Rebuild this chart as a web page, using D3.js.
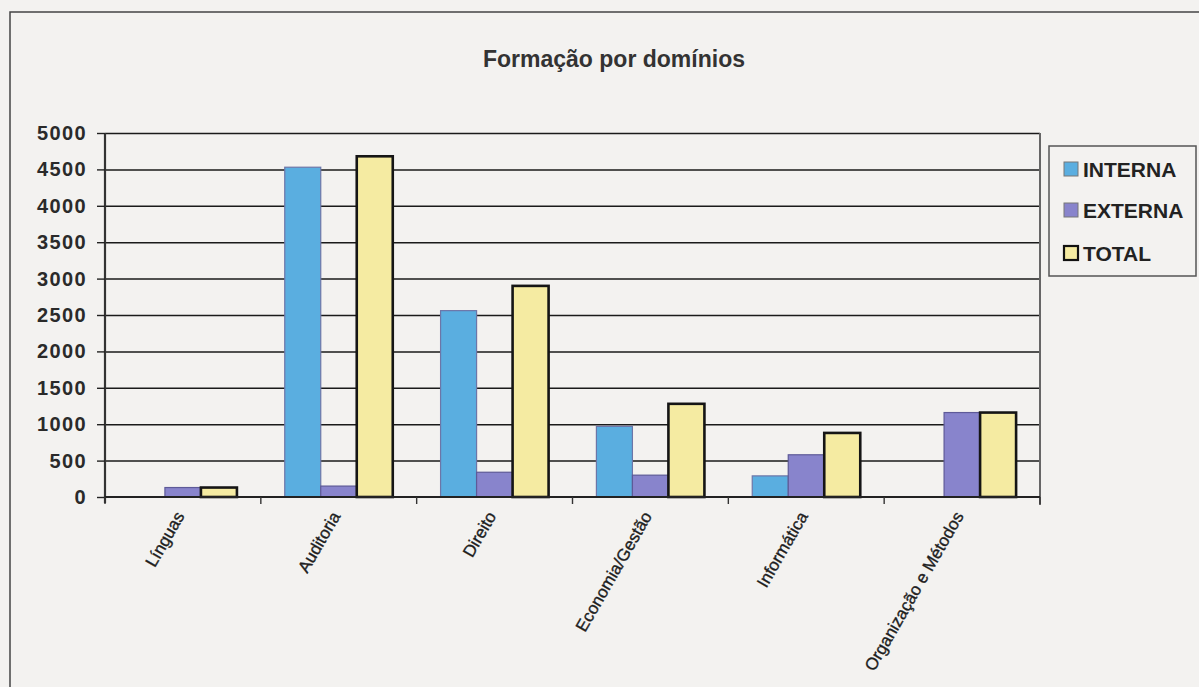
<!DOCTYPE html>
<html>
<head>
<meta charset="utf-8">
<script src="https://cdn.jsdelivr.net/npm/d3@7"></script>
<style>
  html, body { margin: 0; padding: 0; background: #f3f2f0; }
  svg { display: block; }
  text { font-family: "Liberation Sans", Arial, Helvetica, sans-serif; }
</style>
</head>
<body>
<svg id="chart" width="1199" height="687"></svg>
<script>
const title = "Formação por domínios";
const categories = ["Línguas", "Auditoria", "Direito", "Economia/Gestão", "Informática", "Organização e Métodos"];
const seriesNames = ["INTERNA", "EXTERNA", "TOTAL"];
const interna = [0, 4530, 2560, 970, 290, 0];
const externa = [130, 150, 340, 300, 580, 1160];
const total   = [130, 4680, 2900, 1280, 880, 1160];
const yTicks = [0, 500, 1000, 1500, 2000, 2500, 3000, 3500, 4000, 4500, 5000];

const colors = { INTERNA: "#5aaee0", EXTERNA: "#8884cc", TOTAL: "#f5eba2" };
const strokes = { INTERNA: "#6c76a8", EXTERNA: "#5e5a98", TOTAL: "#151515" };
const strokeW = { INTERNA: 1.2, EXTERNA: 1.2, TOTAL: 2.6 };

const seriesValues = { INTERNA: interna, EXTERNA: externa, TOTAL: total };
const data = categories.map((c, i) => ({
  cat: c,
  vals: seriesNames.map(s => ({ key: s, value: seriesValues[s][i] }))
}));

const svg = d3.select("#chart");
const W = 1199, H = 687;
const plot = { left: 105, right: 1040, top: 133, bottom: 497 };

// outer chart border
svg.append("rect").attr("x", 0).attr("y", 0).attr("width", W).attr("height", H).attr("fill", "#f3f2f0");
svg.append("path")
  .attr("d", `M10,${H} L10,12 L${W},12`)
  .attr("fill", "none").attr("stroke", "#444").attr("stroke-width", 1.5);

// title
svg.append("text")
  .attr("x", 614).attr("y", 67)
  .attr("text-anchor", "middle")
  .attr("font-size", 23).attr("font-weight", "bold")
  .attr("fill", "#333")
  .text(title);

const x0 = d3.scaleBand().domain(categories).range([plot.left, plot.right]).paddingInner(0).paddingOuter(0);
const x1 = d3.scaleBand().domain(seriesNames).range([0, x0.bandwidth()]).paddingInner(0).paddingOuter(0.664);
const y = d3.scaleLinear().domain([0, 5000]).range([plot.bottom, plot.top]);

// gridlines
svg.append("g")
  .attr("transform", `translate(${plot.left},0)`)
  .call(d3.axisLeft(y).tickValues(yTicks.filter(t => t > 0)).tickSize(-(plot.right - plot.left)).tickFormat(""))
  .call(g => g.select(".domain").remove())
  .call(g => g.selectAll("line").attr("stroke", "#1a1a1a").attr("stroke-width", 1.5));

// right border of plot
svg.append("line")
  .attr("x1", plot.right).attr("x2", plot.right)
  .attr("y1", plot.top).attr("y2", plot.bottom + 8)
  .attr("stroke", "#666").attr("stroke-width", 2);

// bars
const groups = svg.append("g").selectAll("g")
  .data(data).join("g")
  .attr("transform", d => `translate(${x0(d.cat)},0)`);

groups.selectAll("rect")
  .data(d => d.vals.filter(v => v.value > 0))
  .join("rect")
  .attr("x", d => x1(d.key))
  .attr("y", d => y(d.value))
  .attr("width", x1.bandwidth())
  .attr("height", d => y(0) - y(d.value))
  .attr("fill", d => colors[d.key])
  .attr("stroke", d => strokes[d.key])
  .attr("stroke-width", d => strokeW[d.key]);

// y axis
svg.append("g")
  .attr("transform", `translate(${plot.left},0)`)
  .call(d3.axisLeft(y).tickValues(yTicks).tickSize(8).tickPadding(10).tickFormat(d3.format("d")))
  .call(g => g.select(".domain").attr("stroke", "#333").attr("stroke-width", 2.2)
    .attr("d", `M0,${plot.top}V${plot.bottom + 6}`))
  .call(g => g.selectAll(".tick line").attr("stroke", "#222").attr("stroke-width", 1.4))
  .call(g => g.selectAll(".tick text")
    .attr("font-size", 20).attr("font-weight", "bold")
    .attr("letter-spacing", 1.4)
    .attr("fill", "#2a2a2a")
    .attr("font-family", "'Liberation Sans', Arial, sans-serif"));

// x axis line
svg.append("line")
  .attr("x1", plot.left).attr("x2", plot.right)
  .attr("y1", plot.bottom).attr("y2", plot.bottom)
  .attr("stroke", "#222").attr("stroke-width", 1.8);

// x tick marks at category boundaries
const boundaries = categories.map(c => x0(c)).concat([x0.range()[1]]);
svg.append("g").selectAll("line")
  .data(boundaries).join("line")
  .attr("x1", d => d).attr("x2", d => d)
  .attr("y1", plot.bottom).attr("y2", plot.bottom + 7)
  .attr("stroke", "#333").attr("stroke-width", 1.4);

// x labels
svg.append("g").selectAll("text")
  .data(categories).join("text")
  .attr("transform", d => `translate(${x0(d) + x0.bandwidth() / 2 - 3},${plot.bottom + 16}) rotate(-60)`)
  .attr("text-anchor", "end")
  .attr("dy", "0.35em")
  .attr("font-size", 17)
  .attr("fill", "#1e1e1e")
  .attr("stroke", "#1e1e1e").attr("stroke-width", 0.35)
  .text(d => d);

// legend
const lg = svg.append("g");
lg.append("rect")
  .attr("x", 1049).attr("y", 146).attr("width", 147).attr("height", 130)
  .attr("fill", "#f3f2f0").attr("stroke", "#555").attr("stroke-width", 1.5);
const legendY = [169, 210, 253];
seriesNames.forEach((s, i) => {
  lg.append("rect")
    .attr("x", 1064).attr("y", legendY[i] - 7).attr("width", 14).attr("height", 14)
    .attr("fill", colors[s]).attr("stroke", s === "TOTAL" ? "#111" : "#777")
    .attr("stroke-width", s === "TOTAL" ? 2.2 : 1);
  lg.append("text")
    .attr("x", 1083).attr("y", legendY[i]).attr("dy", "0.36em")
    .attr("font-size", 21).attr("font-weight", "bold").attr("fill", "#222")
    .text(s);
});
</script>
</body>
</html>
